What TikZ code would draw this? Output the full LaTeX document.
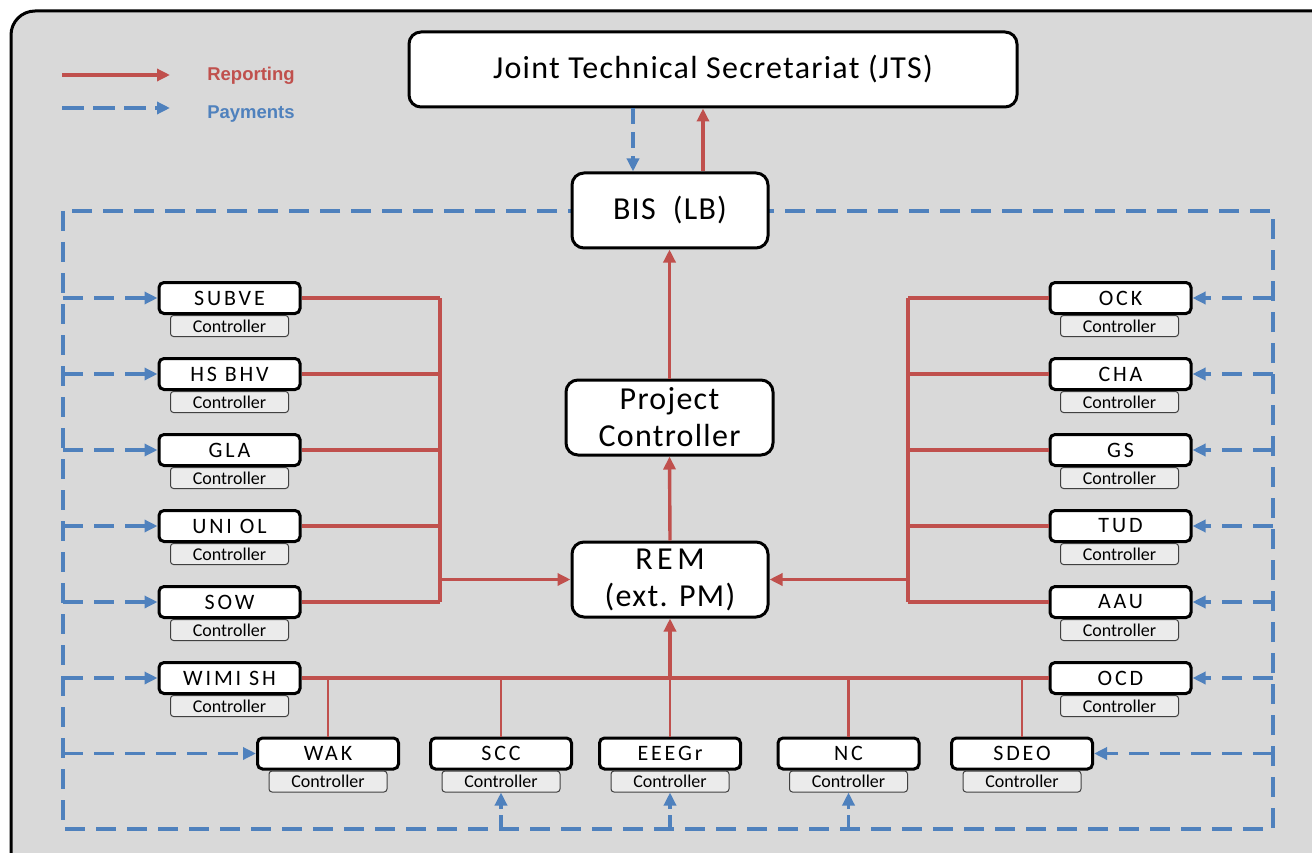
\documentclass[tikz,border=0pt]{standalone}
\usepackage{fontspec}
\setmainfont{Carlito}
\newfontfamily\legfont{Liberation Sans}
\newfontfamily\spacedfont{Carlito}[LetterSpace=13]
\newfontfamily\bigfont{Carlito}[LetterSpace=4]
\usetikzlibrary{arrows.meta}
\definecolor{repred}{HTML}{C0504D}
\definecolor{payblue}{HTML}{4F81BD}
\definecolor{bggray}{HTML}{D9D9D9}
\definecolor{ctrlgray}{HTML}{EBEBEB}
\begin{document}
\begin{tikzpicture}[x=1pt,y=-1pt,
  bigbox/.style={draw, line width=3pt, rounded corners=12pt, fill=white, inner sep=0pt, align=center, font=\bigfont\fontsize{32}{37}\selectfont},
  orgbox/.style={draw, line width=3pt, rounded corners=5pt, fill=white, minimum width=141pt, minimum height=31pt, inner sep=0pt, font=\spacedfont\fontsize{22}{24}\selectfont},
  ctrlbox/.style={draw=black!75, line width=1pt, rounded corners=3pt, fill=ctrlgray, minimum width=118pt, minimum height=21pt, inner sep=0pt, font=\fontsize{18}{20}\selectfont},
  rep/.style={draw=repred, line width=3.4pt},
  pay/.style={draw=payblue, line width=3.4pt, dash pattern=on 20pt off 11pt},
  arrowend/.style={-{Triangle[length=13pt,width=12pt]}},
  legtext/.style={font=\legfont\bfseries\fontsize{18.5}{20}\selectfont, inner sep=0pt},
]
\useasboundingbox (0,0) rectangle (1312,853);
\clip (0,0) rectangle (1312,853);
% background panel
\draw[line width=3pt, fill=bggray, rounded corners=24pt] (11,11) rectangle (1350,890);

% legend
\coordinate (lra) at (62,75);
\coordinate (lrb) at (170,75);
\coordinate (lpa) at (62,108);
\coordinate (lpb) at (170,108);
\draw[rep, arrowend] (lra) -- (lrb);
\draw[pay, dash pattern=on 22pt off 9pt, arrowend] (lpa) -- (lpb);
\node[legtext, text=repred] (replbl) at (251,75.5) {Reporting};
\node[legtext, text=payblue] (paylbl) at (251,114.5) {Payments};

% payment frame
\coordinate (fr1) at (63,211);
\coordinate (fr2) at (1273,829);
\draw[pay] (fr1) rectangle (fr2);

% main boxes
\node[bigbox, minimum width=608pt, minimum height=75pt] (jts) at (713,69.5) {Joint Technical Secretariat (JTS)};
\node[bigbox, minimum width=196pt, minimum height=75pt] (bis) at (670,210.5) {BIS\ \ (LB)};
\node[bigbox, minimum width=207pt, minimum height=75pt] (pc) at (669.5,417.5) {Project\\Controller};
\node[bigbox, minimum width=196pt, minimum height=75pt] (rem) at (670,579.5) {{\addfontfeature{LetterSpace=14}REM}\\(ext. PM)};

% bus coordinates
\coordinate (lbus) at (440,0);
\coordinate (rbus) at (908,0);
\coordinate (jpay) at (633,0);
\coordinate (jrep) at (703,0);

% left partners
\foreach \n/\t/\y in {subve/SUBVE/298, hsbhv/HS BHV/374, gla/GLA/450, uniol/UNI OL/526, sow/SOW/602, wimish/WIMI SH/678}{
  \node[orgbox] (\n) at (229.5,\y) {\t};
  \node[ctrlbox] (\n c) at (229.5,\y+28) {Controller};
  \draw[pay, arrowend] (fr1 |- \n.west) -- (\n.west);
}
% right partners
\foreach \n/\t/\y in {ock/OCK/298, cha/CHA/374, gs/GS/450, tud/TUD/526, aau/AAU/602, ocd/OCD/678}{
  \node[orgbox] (\n) at (1120.5,\y) {\t};
  \node[ctrlbox] (\n c) at (1119.5,\y+28) {Controller};
  \draw[pay, arrowend] (fr2 |- \n.east) -- (\n.east);
}
% bottom partners
\foreach \n/\t/\x in {wak/WAK/328, scc/SCC/501, eeegr/EEEGr/670, nc/NC/848.5, sdeo/SDEO/1022}{
  \node[orgbox] (\n) at (\x,753.5) {\t};
  \node[ctrlbox] (\n c) at (\x,781.5) {Controller};
}

% reporting lines, left
\foreach \n in {subve, hsbhv, gla, uniol, sow}{
  \draw[rep] (\n.east) -- (\n.east -| lbus);
}
\draw[rep] (lbus |- subve.east) -- (lbus |- sow.east);
\draw[rep, arrowend] (lbus |- rem.west) -- (rem.west);
% reporting lines, right
\foreach \n in {ock, cha, gs, tud, aau}{
  \draw[rep] (\n.west) -- (\n.west -| rbus);
}
\draw[rep] (rbus |- ock.west) -- (rbus |- aau.west);
\draw[rep, arrowend] (rbus |- rem.east) -- (rem.east);
% reporting bottom
\draw[rep] (wimish.east) -- (ocd.west);
\foreach \n in {wak, scc, eeegr, nc, sdeo}{
  \draw[rep, line width=2.8pt] (\n.north) -- (\n.north |- wimish.east);
}
\draw[rep, arrowend] (rem.south |- wimish.east) -- (rem.south);
% up the chain
\draw[rep, arrowend] (rem.north) -- (pc.south);
\draw[rep, arrowend] (pc.north) -- (pc.north |- bis.south);
\draw[rep, arrowend] (jrep |- bis.north) -- (jrep |- jts.south);
\draw[pay, dash pattern=on 16pt off 8pt, arrowend] (jpay |- jts.south) -- (jpay |- bis.north);

% payments bottom
\draw[pay, arrowend] (fr1 |- wak.west) -- (wak.west);
\draw[pay, arrowend] (fr2 |- sdeo.east) -- (sdeo.east);
\foreach \n in {scc, eeegr, nc}{
  \draw[pay, dash pattern=on 14pt off 6pt, arrowend] (\n c.south |- fr2) -- (\n c.south);
}
\end{tikzpicture}
\end{document}
